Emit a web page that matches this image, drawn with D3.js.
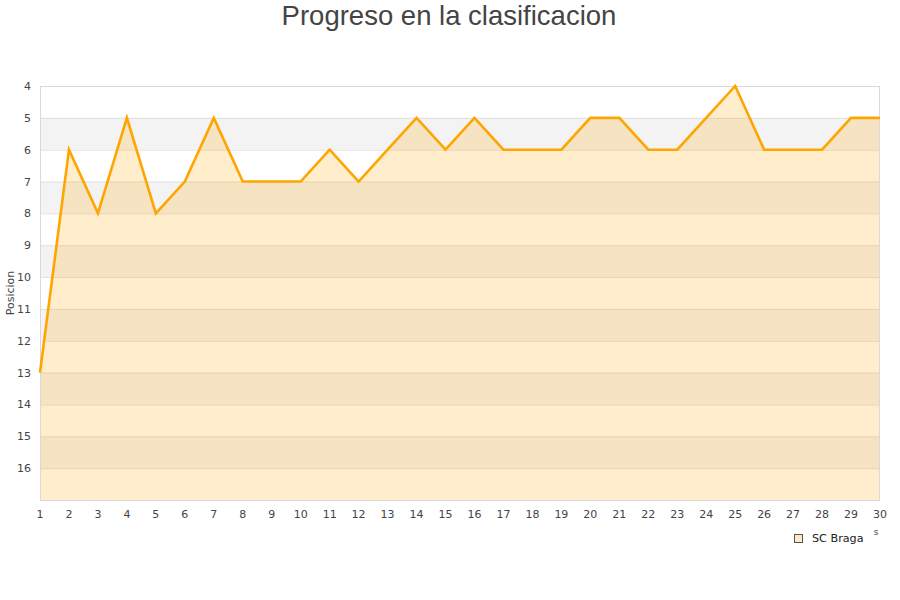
<!DOCTYPE html>
<html><head><meta charset="utf-8">
<script src="https://cdn.jsdelivr.net/npm/d3@7"></script>
<style>body{margin:0;background:#fff}svg{display:block}</style>
</head><body><svg id="c" width="900" height="600"></svg>
<script>
const jornadas = d3.range(1, 31);
const posiciones = [13,6,8,5,8,7,5,7,7,7,6,7,6,5,6,5,6,6,6,5,5,6,6,5,4,6,6,6,5,5];
const yTicks = [4,5,6,7,8,9,10,11,12,13,14,15,16];
const seriesName = "SC Braga";
const title = "Progreso en la clasificacion";
const yTitle = "Posicion";

const svg = d3.select("#c");
const m = {l:40, r:880, t:86, b:500};
const x = d3.scaleLinear().domain([1,30]).range([m.l, m.r]);
const y = d3.scaleLinear().domain([4,17]).range([m.t, m.b]);

// alternating bands
const bands = d3.range(4,17);
svg.selectAll("rect.band").data(bands).enter().append("rect")
  .attr("x", m.l).attr("width", m.r-m.l)
  .attr("y", d=>y(d)).attr("height", d=>y(d+1)-y(d))
  .attr("fill", d=> (d%2===1) ? "#f3f3f3" : "#ffffff");

// grid lines
svg.selectAll("line.grid").data(d3.range(5,17)).enter().append("line")
  .attr("x1", m.l).attr("x2", m.r)
  .attr("y1", d=>y(d)+0.5).attr("y2", d=>y(d)+0.5)
  .attr("stroke", "#e0e0e0").attr("stroke-width", 1);

const pts = jornadas.map((j,i)=>({j, p:posiciones[i]}));
svg.append("path").datum(pts)
  .attr("d", d3.area().x(d=>x(d.j)).y0(y(17)).y1(d=>y(d.p)))
  .attr("fill", "rgba(255,165,0,0.2)");

// frame
svg.append("rect").attr("x", m.l+0.5).attr("y", m.t+0.5)
  .attr("width", m.r-m.l-1).attr("height", m.b-m.t)
  .attr("fill","none").attr("stroke","#d9d9d9");

svg.append("path").datum(pts)
  .attr("d", d3.line().x(d=>x(d.j)).y(d=>y(d.p)))
  .attr("fill","none").attr("stroke","#ffa500").attr("stroke-width",2.6)
  .attr("stroke-linejoin","miter");

const font = "DejaVu Sans, sans-serif";
svg.selectAll("text.yt").data(yTicks).enter().append("text")
  .attr("x", 31).attr("y", d=>y(d)+4).attr("text-anchor","end")
  .attr("font-family", font).attr("font-size", 11).attr("fill","#444")
  .text(d=>d);
svg.selectAll("text.xt").data(jornadas).enter().append("text")
  .attr("x", d=>x(d)).attr("y", 518).attr("text-anchor","middle")
  .attr("font-family", font).attr("font-size", 11).attr("fill","#444")
  .text(d=>d);

svg.append("text").attr("x", 449).attr("y", 25).attr("text-anchor","middle")
  .attr("font-family","Liberation Sans, Arial, sans-serif").attr("font-size", 27.5)
  .attr("fill","#444").text(title);

svg.append("text").attr("transform","translate(14,293) rotate(-90)")
  .attr("text-anchor","middle").attr("font-family", font).attr("font-size", 11)
  .attr("fill","#444").text(yTitle);

// legend
svg.append("rect").attr("x", 794.5).attr("y", 534.5).attr("width", 8).attr("height", 8)
  .attr("fill","#fde9c6").attr("stroke","#555").attr("stroke-width",1);
svg.append("text").attr("x", 812).attr("y", 542).attr("font-family", font)
  .attr("font-size", 11.2).attr("fill","#222").text(seriesName);
svg.append("text").attr("x", 876).attr("y", 535).attr("text-anchor","middle")
  .attr("font-family", font).attr("font-size", 9).attr("fill","#444").text("s");
</script></body></html>
